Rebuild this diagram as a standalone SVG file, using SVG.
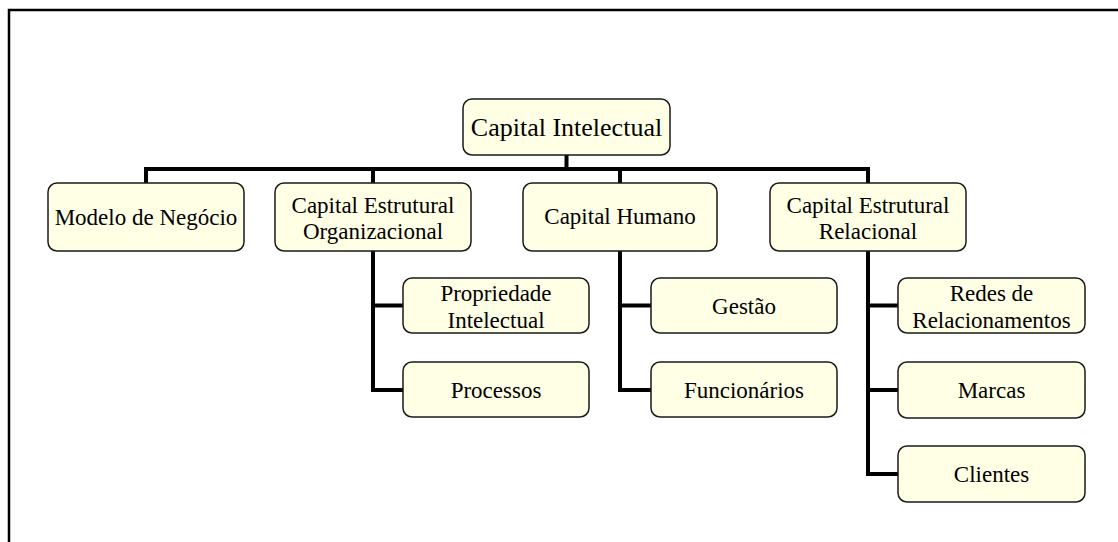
<svg xmlns="http://www.w3.org/2000/svg" width="1118" height="542" viewBox="0 0 1118 542">
<style>
.box{fill:#FFFFE6;stroke:#1a1a1a;stroke-width:1.5}
.t{font-family:"Liberation Serif","Times New Roman",serif;font-size:23px;fill:#000;text-anchor:middle}
.root{font-size:26px}
.c{fill:none;stroke:#000;stroke-width:4;stroke-linejoin:miter;stroke-linecap:butt}
</style>
<rect width="1118" height="542" fill="#fff"/>
<path d="M9,542 V10 H1118" fill="none" stroke="#000" stroke-width="2.5"/>
<g id="connectors">
<path class="c" d="M566.5,155 V169 M146,183 V169 H868 V183 M373,169 V183 M620,169 V183"/>
<path class="c" d="M373,251 V390 H403 M373,305.5 H403"/>
<path class="c" d="M620,251 V390 H651 M620,305.5 H651"/>
<path class="c" d="M868,251 V474 H898 M868,305.5 H898 M868,390 H898"/>
</g>
<g id="n-root"><rect class="box" x="463" y="99" width="207" height="56" rx="9"/><text class="t root" x="566.5" y="136">Capital Intelectual</text></g>
<g id="n-modelo"><rect class="box" x="48" y="183" width="196" height="68" rx="9"/><text class="t" x="146" y="225">Modelo de Negócio</text></g>
<g id="n-org"><rect class="box" x="275" y="183" width="196" height="68" rx="9"/><text class="t" x="373" y="212.5">Capital Estrutural</text><text class="t" x="373" y="238.5">Organizacional</text></g>
<g id="n-humano"><rect class="box" x="523" y="183" width="194" height="68" rx="9"/><text class="t" x="620" y="224">Capital Humano</text></g>
<g id="n-rel"><rect class="box" x="770" y="183" width="196" height="68" rx="9"/><text class="t" x="868" y="212.5">Capital Estrutural</text><text class="t" x="868" y="238.5">Relacional</text></g>
<g id="n-prop"><rect class="box" x="403" y="278" width="186" height="55" rx="9"/><text class="t" x="496" y="300.5">Propriedade</text><text class="t" x="496" y="328">Intelectual</text></g>
<g id="n-proc"><rect class="box" x="403" y="362" width="186" height="55" rx="9"/><text class="t" x="496" y="398">Processos</text></g>
<g id="n-gestao"><rect class="box" x="651" y="278" width="186" height="55" rx="9"/><text class="t" x="744" y="314">Gestão</text></g>
<g id="n-func"><rect class="box" x="651" y="362" width="186" height="55" rx="9"/><text class="t" x="744" y="398">Funcionários</text></g>
<g id="n-redes"><rect class="box" x="898" y="278" width="187" height="55" rx="9"/><text class="t" x="991.5" y="300.5">Redes de</text><text class="t" x="991.5" y="328">Relacionamentos</text></g>
<g id="n-marcas"><rect class="box" x="898" y="362" width="187" height="56" rx="9"/><text class="t" x="991.5" y="398">Marcas</text></g>
<g id="n-clientes"><rect class="box" x="898" y="446" width="187" height="56" rx="9"/><text class="t" x="991.5" y="482">Clientes</text></g>
</svg>
